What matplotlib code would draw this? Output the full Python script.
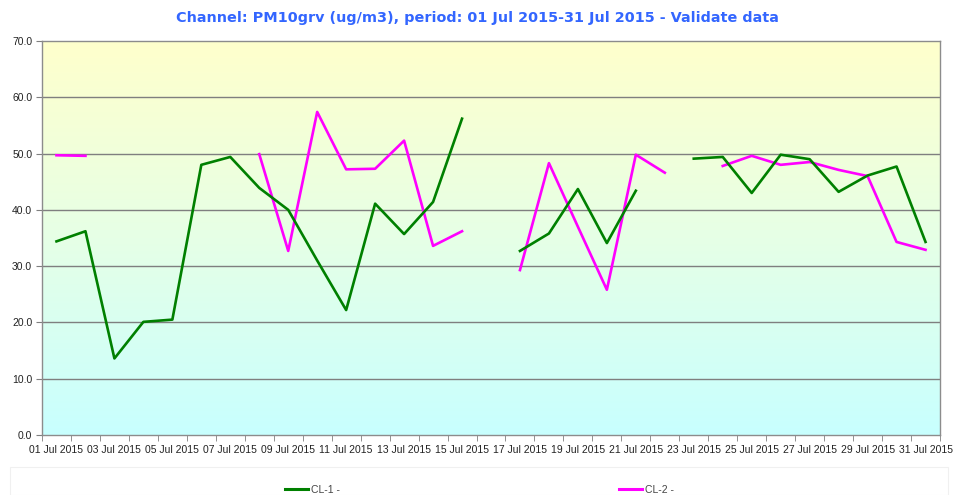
import numpy as np
import matplotlib
matplotlib.use("Agg")
import matplotlib.pyplot as plt
from matplotlib.colors import LinearSegmentedColormap
from matplotlib.lines import Line2D
from matplotlib.patches import Rectangle

nan = np.nan
days = [f"{d:02d} Jul 2015" for d in range(1, 32)]
cl1 = [34.4, 36.2, 13.6, 20.1, 20.5, 48.0, 49.4, 43.9, 40.0, 31.0, 22.2, 41.1, 35.7, 41.4, 56.2,
       nan, 32.7, 35.8, 43.7, 34.1, 43.4, nan, 49.1, 49.4, 43.0, 49.8, 49.0, 43.2, 46.1, 47.7, 34.3]
cl2 = [49.7, 49.6, nan, nan, nan, nan, nan, 49.9, 32.7, 57.4, 47.2, 47.3, 52.3, 33.6, 36.2,
       nan, 29.3, 48.3, 37.0, 25.8, 49.8, 46.6, nan, 47.8, 49.6, 48.0, 48.5, 47.1, 46.0, 34.3, 32.9]
yticks = [0, 10, 20, 30, 40, 50, 60, 70]

plt.rcParams['font.family'] = ['Liberation Sans', 'DejaVu Sans']

fig = plt.figure(figsize=(9.55, 4.95), dpi=100)
ax = fig.add_axes([42/955, 1-435/495, 898/955, 394/495])

x = np.arange(len(days))
ax.set_xlim(-0.5, len(days) - 0.5)
ax.set_ylim(0, 70)

cmap = LinearSegmentedColormap.from_list("bg", ["#C8FFFF", "#E6FFE6", "#FFFFCC"])
grad = np.linspace(0, 1, 256).reshape(-1, 1)
ax.imshow(grad, aspect="auto", cmap=cmap, origin="lower",
          extent=[-0.5, len(days) - 0.5, 0, 70], zorder=0)

for yv in yticks[1:-1]:
    ax.axhline(yv, color="#7F7F7F", lw=1.0, zorder=1)

ax.plot(x, cl1, color="#008000", lw=1.9, zorder=3)
ax.plot(x, cl2, color="#FF00FF", lw=1.9, zorder=2)

ax.set_yticks(yticks)
ax.set_yticklabels([f"{v:.1f}" for v in yticks], fontsize=7.5, color="#222222")
ax.set_xticks(x[::2])
ax.set_xticklabels(days[::2], fontsize=7.5, color="#222222")
ax.set_xticks(np.arange(-0.5, len(days)), minor=True)
ax.tick_params(axis="x", which="major", length=0, pad=7)
ax.tick_params(axis="x", which="minor", length=4, color="#7F7F7F", direction="out")
ax.tick_params(axis="y", length=4, color="#7F7F7F", direction="out", pad=3)
for s in ax.spines.values():
    s.set_color("#8C8C8C")
    s.set_linewidth(1.0)

fig.text(0.5, 1-18/495, "Channel: PM10grv (ug/m3), period: 01 Jul 2015-31 Jul 2015 - Validate data",
         ha="center", va="center", color="#3366FF", fontsize=10.4, fontweight="bold",
         family="DejaVu Sans Condensed")

fig.patches.append(Rectangle((10/955, 0), 938/955, 28/495, transform=fig.transFigure,
                             facecolor="none", edgecolor="#F0F0F0", lw=0.8))

h1 = Line2D([], [], color="#008000", lw=2.2)
h2 = Line2D([], [], color="#FF00FF", lw=2.2)
fig.legend([h1], ["CL-1 -"], loc="center left", bbox_to_anchor=(280/955, 1-490/495),
           frameon=False, fontsize=7.5, handlelength=2.2, handletextpad=0.3, borderpad=0,
           labelcolor="#444444")
fig.legend([h2], ["CL-2 -"], loc="center left", bbox_to_anchor=(614/955, 1-490/495),
           frameon=False, fontsize=7.5, handlelength=2.2, handletextpad=0.3, borderpad=0,
           labelcolor="#444444")

fig.savefig("out.png", dpi=100)
